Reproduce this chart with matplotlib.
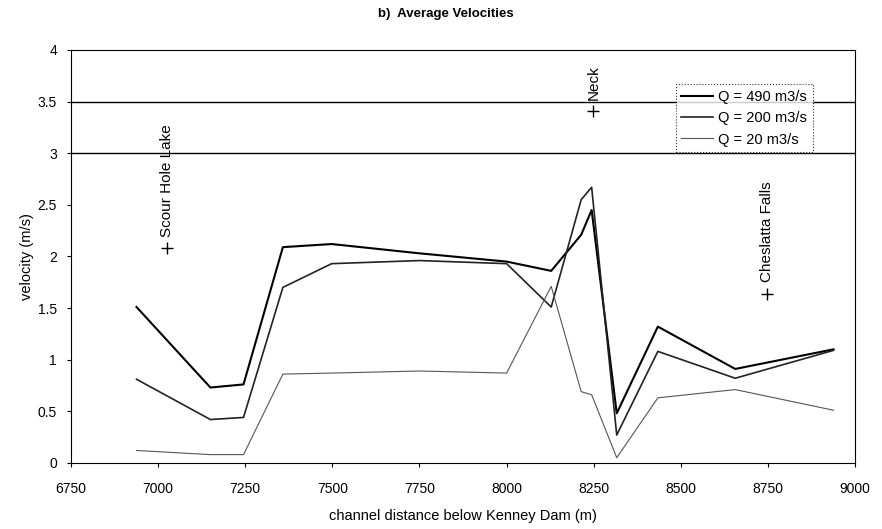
import matplotlib.pyplot as plt

# channel distance (m) and average velocity (m/s)
distance = [6938, 7150, 7245, 7358, 7498, 7750, 8000, 8128, 8214, 8244, 8316, 8434, 8656, 8938]
q490 = [1.51, 0.73, 0.76, 2.09, 2.12, 2.03, 1.95, 1.86, 2.21, 2.45, 0.48, 1.32, 0.91, 1.10]
q200 = [0.81, 0.42, 0.44, 1.70, 1.93, 1.96, 1.93, 1.51, 2.55, 2.67, 0.27, 1.08, 0.82, 1.09]
q20 = [0.12, 0.08, 0.08, 0.86, 0.87, 0.89, 0.87, 1.71, 0.69, 0.66, 0.05, 0.63, 0.71, 0.51]

# landmarks along the channel
landmarks = ['Scour Hole Lake', 'Neck', 'Cheslatta Falls']
landmark_x = [7025, 8249, 8747]
landmark_y = [2.08, 3.41, 1.64]

plt.rcParams['font.family'] = ['Liberation Sans', 'DejaVu Sans']

fig = plt.figure(figsize=(8.82, 5.29), dpi=100)
ax = fig.add_axes([0.0805, 0.125, 0.889, 0.7805])

ax.axhline(3.5, color='black', lw=1.0)
ax.axhline(3.0, color='black', lw=1.0)

ax.plot(distance, q490, color='black', lw=1.5, label='Q = 490 m3/s')
ax.plot(distance, q200, color='#222222', lw=1.2, label='Q = 200 m3/s')
ax.plot(distance, q20, color='#555555', lw=0.8, label='Q = 20 m3/s')

# landmark markers with vertical labels
for name, lx, ly in zip(landmarks, landmark_x, landmark_y):
    ax.plot(lx, ly, marker='+', color='black', ms=9, mew=1.0)
    ax.text(lx, ly + 0.11, name, rotation=90, ha='center', va='bottom', fontsize=11)

ax.set_xlim(6750, 9000)
ax.set_ylim(0, 4)
ax.set_xticks(range(6750, 9001, 250))
ax.set_yticks([0, 0.5, 1, 1.5, 2, 2.5, 3, 3.5, 4])
ax.set_yticklabels(['0', '0.5', '1', '1.5', '2', '2.5', '3', '3.5', '4'])
ax.tick_params(axis='both', labelsize=10, length=3, direction='out')
ax.tick_params(axis='x', pad=11)
ax.tick_params(axis='y', pad=7)

leg = ax.legend(loc='upper right', bbox_to_anchor=(0.955, 0.935), fontsize=10.5,
                frameon=True, fancybox=False, edgecolor='black', handlelength=2.2,
                borderpad=0.4, labelspacing=0.5, handletextpad=0.3)
leg.get_frame().set_linewidth(0.8)
leg.get_frame().set_linestyle(':')

fig.suptitle('b)  Average Velocities', x=0.505, y=0.985, fontsize=9.5, fontweight='bold')
ax.set_xlabel('channel distance below Kenney Dam (m)', fontsize=10.5, labelpad=9)
ax.set_ylabel('velocity (m/s)', fontsize=10.5, labelpad=3)

fig.savefig('out.png', dpi=100)
